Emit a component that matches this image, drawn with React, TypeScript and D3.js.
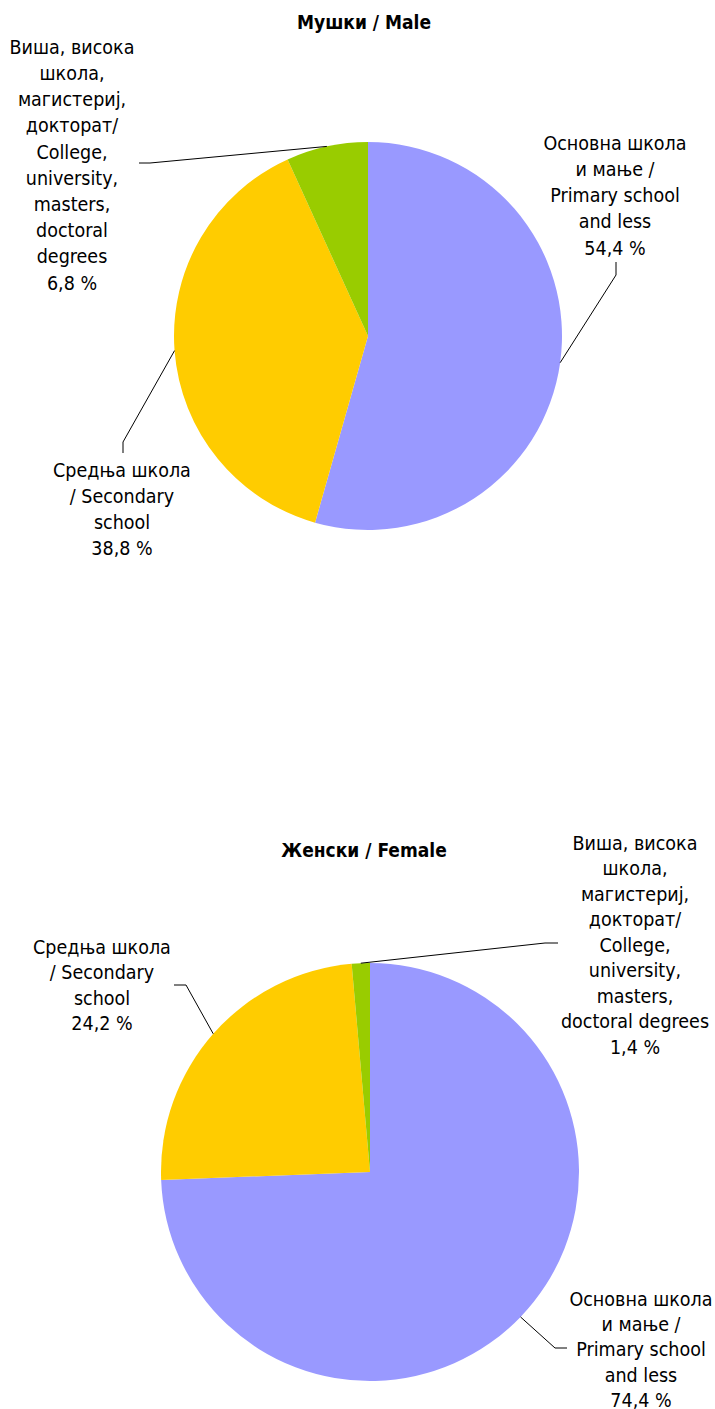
import React from "react";
import * as d3 from "d3";

const categories = [
  "Основна школа и мање / Primary school and less",
  "Средња школа / Secondary school",
  "Виша, висока школа, магистериј, докторат/ College, university, masters, doctoral degrees",
];
const maleValues = [54.4, 38.8, 6.8];
const femaleValues = [74.4, 24.2, 1.4];
const colors = ["#9999FF", "#FFCC00", "#99CC00"];

const maleLabelLines = [
  ["Основна школа", "и мање /", "Primary school", "and less"],
  ["Средња школа", "/ Secondary", "school"],
  ["Виша, висока", "школа,", "магистериј,", "докторат/", "College,", "university,", "masters,", "doctoral", "degrees"],
];
const femaleLabelLines = [
  ["Основна школа", "и мање /", "Primary school", "and less"],
  ["Средња школа", "/ Secondary", "school"],
  ["Виша, висока", "школа,", "магистериј,", "докторат/", "College,", "university,", "masters,", "doctoral degrees"],
];

const fmt = (v: number) => v.toFixed(1).replace(".", ",") + " %";

type PieCfg = {
  title: string;
  titleY: number;
  cx: number;
  cy: number;
  r: number;
  values: number[];
  lines: string[][];
  labels: { x: number; y: number; lh: number }[];
  leaders: { bend: [number, number]; end: [number, number] }[];
};

const charts: PieCfg[] = [
  {
    title: "Мушки / Male",
    titleY: 29,
    cx: 368,
    cy: 336,
    r: 194,
    values: maleValues,
    lines: maleLabelLines,
    labels: [
      { x: 615, y: 143, lh: 26.2 },
      { x: 122, y: 470, lh: 26 },
      { x: 72, y: 47, lh: 26.2 },
    ],
    leaders: [
      { bend: [616, 275], end: [616, 262] },
      { bend: [123, 442], end: [123, 453] },
      { bend: [150, 163], end: [139, 163] },
    ],
  },
  {
    title: "Женски / Female",
    titleY: 857,
    cx: 370,
    cy: 1172,
    r: 209,
    values: femaleValues,
    lines: femaleLabelLines,
    labels: [
      { x: 641, y: 1299, lh: 25.3 },
      { x: 102, y: 947, lh: 25.5 },
      { x: 635, y: 843, lh: 25.5 },
    ],
    leaders: [
      { bend: [555, 1348], end: [567, 1348] },
      { bend: [186, 985], end: [174, 985] },
      { bend: [545, 943], end: [558, 943] },
    ],
  },
];

const FONT = "'DejaVu Sans Condensed', 'DejaVu Sans', sans-serif";

function Pie({ cfg }: { cfg: PieCfg }) {
  const pie = d3.pie<number>().sort(null).value((d) => d);
  const arcs = pie(cfg.values);
  const arc = d3.arc<d3.PieArcDatum<number>>().innerRadius(0).outerRadius(cfg.r);
  return (
    <g>
      <text
        x={364}
        y={cfg.titleY}
        textAnchor="middle"
        fontFamily={FONT}
        fontWeight="bold"
        fontSize={19}
        fill="#000"
      >
        {cfg.title}
      </text>
      <g transform={`translate(${cfg.cx},${cfg.cy})`}>
        {arcs.map((a, i) => (
          <path key={i} d={arc(a) || ""} fill={colors[i]} />
        ))}
      </g>
      {arcs.map((a, i) => {
        const mid = (a.startAngle + a.endAngle) / 2;
        const px = cfg.cx + cfg.r * Math.sin(mid);
        const py = cfg.cy - cfg.r * Math.cos(mid);
        const ld = cfg.leaders[i];
        const pts: [number, number][] = [[px, py], ld.bend, ld.end];
        return (
          <path
            key={"l" + i}
            d={d3.line()(pts) || ""}
            fill="none"
            stroke="#000"
            strokeWidth={1}
          />
        );
      })}
      {arcs.map((a, i) => {
        const lab = cfg.labels[i];
        const all = [...cfg.lines[i], fmt(cfg.values[i])];
        return (
          <text
            key={"t" + i}
            textAnchor="middle"
            fontFamily={FONT}
            fontSize={19.5}
            fill="#000"
          >
            {all.map((s, j) => (
              <tspan key={j} x={lab.x} y={lab.y + j * lab.lh} dy="0.35em">
                {s}
              </tspan>
            ))}
          </text>
        );
      })}
    </g>
  );
}

export default function App() {
  return (
    <svg
      width={715}
      height={1409}
      style={{ position: "absolute", left: 0, top: 0, background: "#fff" }}
    >
      <title>{categories.join("; ")}</title>
      {charts.map((c, i) => (
        <Pie key={i} cfg={c} />
      ))}
    </svg>
  );
}
